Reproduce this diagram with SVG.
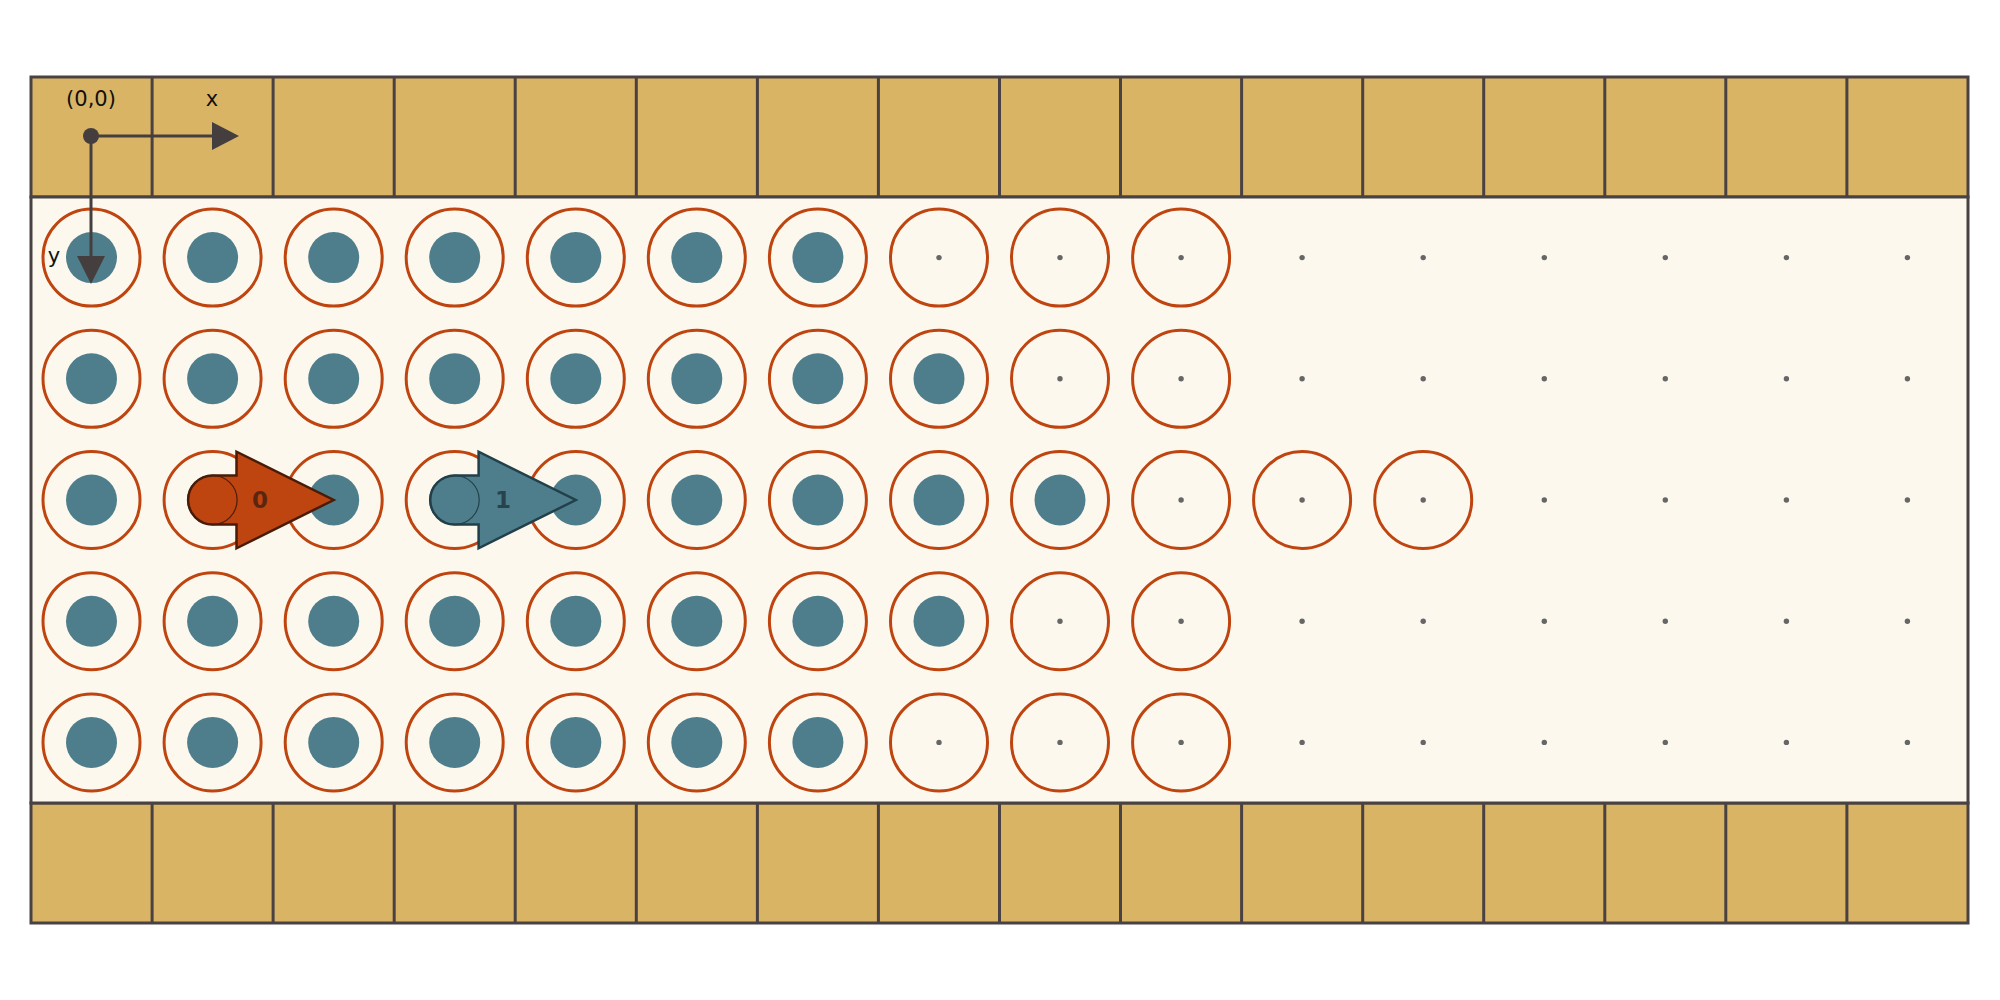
<svg xmlns="http://www.w3.org/2000/svg" xmlns:xlink="http://www.w3.org/1999/xlink" width="2000" height="1000" viewBox="0 0 2000 1000">
<style>
.strip{fill:#DAB465;stroke:#4A4242;stroke-width:3}
.main{fill:#FDF8EE;stroke:#4A4242;stroke-width:3}
.div{stroke:#4A4242;stroke-width:3}
.ring{fill:none;stroke:#BF4510;stroke-width:3}
.core{fill:#4E7E8C}
.pt{fill:#666666}
.lbl{font-family:"DejaVu Sans",sans-serif;font-size:21px;fill:#111}
.num{font-family:"DejaVu Sans",sans-serif;font-size:23px;font-weight:bold;text-anchor:middle;dominant-baseline:central}
.axis{stroke:#453E3E;stroke-width:3;fill:none}
</style>
<defs>
<g id="full"><circle class="ring" r="48.5"/><circle class="core" r="25.5"/></g>
<g id="empty"><circle class="ring" r="48.5"/><circle class="pt" r="2.7"/></g>
<g id="dot"><circle class="pt" r="2.7"/></g>
</defs>
<rect width="2000" height="1000" fill="#FFFFFF"/>
<g id="frame">
<rect class="strip" x="31" y="77" width="1937" height="120"/>
<rect class="strip" x="31" y="803" width="1937" height="120"/>
<rect class="main" x="31" y="197" width="1937" height="606"/>
<path class="div" d="M152.1,77V197M273.1,77V197M394.2,77V197M515.2,77V197M636.3,77V197M757.4,77V197M878.4,77V197M999.5,77V197M1120.5,77V197M1241.6,77V197M1362.7,77V197M1483.7,77V197M1604.8,77V197M1725.8,77V197M1846.9,77V197"/>
<path class="div" d="M152.1,803V923M273.1,803V923M394.2,803V923M515.2,803V923M636.3,803V923M757.4,803V923M878.4,803V923M999.5,803V923M1120.5,803V923M1241.6,803V923M1362.7,803V923M1483.7,803V923M1604.8,803V923M1725.8,803V923M1846.9,803V923"/>
</g>
<g id="row0" transform="translate(0,257.6)">
<use href="#full" x="91.5"/><use href="#full" x="212.6"/><use href="#full" x="333.7"/><use href="#full" x="454.7"/><use href="#full" x="575.8"/><use href="#full" x="696.8"/><use href="#full" x="817.9"/>
<use href="#empty" x="939"/><use href="#empty" x="1060"/><use href="#empty" x="1181.1"/>
<use href="#dot" x="1302.1"/><use href="#dot" x="1423.2"/><use href="#dot" x="1544.3"/><use href="#dot" x="1665.3"/><use href="#dot" x="1786.4"/><use href="#dot" x="1907.4"/>
</g>
<g id="row1" transform="translate(0,378.8)">
<use href="#full" x="91.5"/><use href="#full" x="212.6"/><use href="#full" x="333.7"/><use href="#full" x="454.7"/><use href="#full" x="575.8"/><use href="#full" x="696.8"/><use href="#full" x="817.9"/><use href="#full" x="939"/>
<use href="#empty" x="1060"/><use href="#empty" x="1181.1"/>
<use href="#dot" x="1302.1"/><use href="#dot" x="1423.2"/><use href="#dot" x="1544.3"/><use href="#dot" x="1665.3"/><use href="#dot" x="1786.4"/><use href="#dot" x="1907.4"/>
</g>
<g id="row2" transform="translate(0,500)">
<use href="#full" x="91.5"/><use href="#full" x="212.6"/><use href="#full" x="333.7"/><use href="#full" x="454.7"/><use href="#full" x="575.8"/><use href="#full" x="696.8"/><use href="#full" x="817.9"/><use href="#full" x="939"/><use href="#full" x="1060"/>
<use href="#empty" x="1181.1"/><use href="#empty" x="1302.1"/><use href="#empty" x="1423.2"/>
<use href="#dot" x="1544.3"/><use href="#dot" x="1665.3"/><use href="#dot" x="1786.4"/><use href="#dot" x="1907.4"/>
</g>
<g id="row3" transform="translate(0,621.2)">
<use href="#full" x="91.5"/><use href="#full" x="212.6"/><use href="#full" x="333.7"/><use href="#full" x="454.7"/><use href="#full" x="575.8"/><use href="#full" x="696.8"/><use href="#full" x="817.9"/><use href="#full" x="939"/>
<use href="#empty" x="1060"/><use href="#empty" x="1181.1"/>
<use href="#dot" x="1302.1"/><use href="#dot" x="1423.2"/><use href="#dot" x="1544.3"/><use href="#dot" x="1665.3"/><use href="#dot" x="1786.4"/><use href="#dot" x="1907.4"/>
</g>
<g id="row4" transform="translate(0,742.4)">
<use href="#full" x="91.5"/><use href="#full" x="212.6"/><use href="#full" x="333.7"/><use href="#full" x="454.7"/><use href="#full" x="575.8"/><use href="#full" x="696.8"/><use href="#full" x="817.9"/>
<use href="#empty" x="939"/><use href="#empty" x="1060"/><use href="#empty" x="1181.1"/>
<use href="#dot" x="1302.1"/><use href="#dot" x="1423.2"/><use href="#dot" x="1544.3"/><use href="#dot" x="1665.3"/><use href="#dot" x="1786.4"/><use href="#dot" x="1907.4"/>
</g>
<g id="mover0">
<path d="M212.6,475.5H236.5V451.7L333.7,500L236.5,548.3V524.5H212.6A24.5,24.5 0 0 1 212.6,475.5Z" fill="#BF4510" stroke="#4A1C08" stroke-width="2.5" stroke-linejoin="miter"/>
<circle cx="212.6" cy="500" r="24.5" fill="none" stroke="#4A1C08" stroke-width="1.2"/>
<text class="num" x="260" y="500" fill="#5A2610">0</text>
</g>
<g id="mover1">
<path d="M454.7,475.5H478.6V451.7L575.8,500L478.6,548.3V524.5H454.7A24.5,24.5 0 0 1 454.7,475.5Z" fill="#4E7E8C" stroke="#22404A" stroke-width="2.5" stroke-linejoin="miter"/>
<circle cx="454.7" cy="500" r="24.5" fill="none" stroke="#22404A" stroke-width="1.2"/>
<text class="num" x="503" y="500" fill="#27434C">1</text>
</g>
<g id="axes">
<line class="axis" x1="91" y1="136" x2="214" y2="136"/>
<polygon points="212,122 239,136 212,150" fill="#453E3E"/>
<line class="axis" x1="91" y1="136" x2="91" y2="258"/>
<polygon points="77,256 105,256 91,284" fill="#453E3E"/>
<circle cx="91" cy="136" r="8" fill="#453E3E"/>
<text class="lbl" x="91" y="106" text-anchor="middle">(0,0)</text>
<text class="lbl" x="212" y="106" text-anchor="middle">x</text>
<text class="lbl" x="54" y="263" text-anchor="middle">y</text>
</g>
</svg>
